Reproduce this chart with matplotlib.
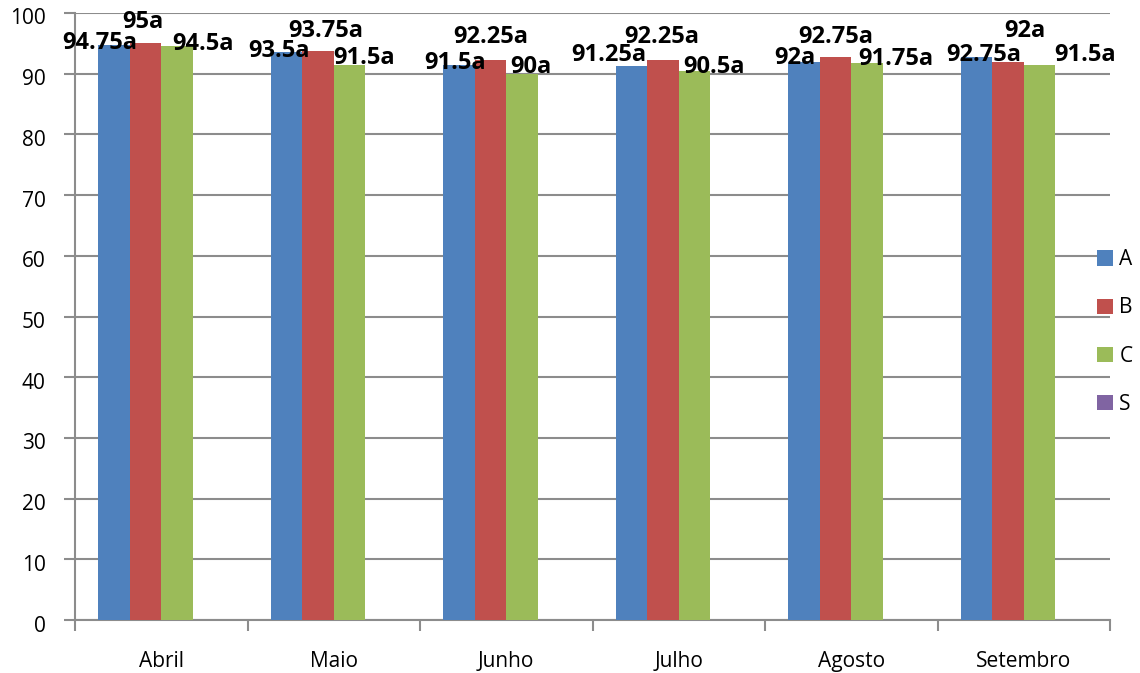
import numpy as np
import matplotlib.pyplot as plt
from matplotlib.patches import Patch
from matplotlib.transforms import ScaledTranslation

plt.rcParams['font.family'] = ['Open Sans', 'DejaVu Sans']

# dados
meses = ['Abril', 'Maio', 'Junho', 'Julho', 'Agosto', 'Setembro']
serie_a = [94.75, 93.5, 91.5, 91.25, 92, 92.75]
serie_b = [95, 93.75, 92.25, 92.25, 92.75, 92]
serie_c = [94.5, 91.5, 90, 90.5, 91.75, 91.5]
serie_s = [0, 0, 0, 0, 0, 0]
nomes = ['A', 'B', 'C', 'S']
cores = ['#4F81BD', '#C0504D', '#9BBB59', '#8064A2']

# deslocamento dos rótulos (pixels) em relação ao topo de cada barra
desl_x = [[-14, -8, -3.5, -23, -9, 7],
          [-3, 8, 0, -1, 0, 17],
          [26, 15, 8.5, 20, 29, 46]]
desl_y = [[2, 1.5, 1.6, 11, 3.6, 2],
          [21, 20, 23, 23, 20, 30.6],
          [2, 6.6, 6.7, 3.7, 4, 9.6]]

fig = plt.figure(figsize=(11.4, 6.73), dpi=100)
ax = fig.add_axes([75 / 1140, 53 / 673, 1035 / 1140, 607 / 673])

x = np.arange(len(meses))
w = 0.1825
series = [serie_a, serie_b, serie_c, serie_s]
for i, (vals, cor) in enumerate(zip(series, cores)):
    pos = x + (i - 1.5) * w
    ax.bar(pos, vals, width=w, color=cor, zorder=3)
    if i < 3:
        for j, v in enumerate(vals):
            ax.annotate('%ga' % v, xy=(pos[j], v),
                        xytext=(desl_x[i][j], desl_y[i][j]),
                        textcoords='offset pixels', ha='center', va='center',
                        fontsize=17, fontweight='bold', zorder=5)

ax.set_xlim(-0.5, len(meses) - 0.5)
ax.set_ylim(0, 100)
ax.set_yticks(np.arange(0, 101, 10))
ax.set_xticks(x)
ax.set_xticklabels(meses)
ax.set_xticks(np.arange(-0.5, len(meses), 1), minor=True)

grid_cor = '#8C8C8C'
ax.yaxis.grid(True, color=grid_cor, linewidth=1.5, zorder=0)
ax.set_axisbelow(True)
for s in ['top', 'right']:
    ax.spines[s].set_visible(False)
for s in ['left', 'bottom']:
    ax.spines[s].set_color(grid_cor)
    ax.spines[s].set_linewidth(1.5)

ax.tick_params(axis='y', length=8, width=1.5, color=grid_cor, pad=13, labelsize=15)
ax.tick_params(axis='x', which='major', length=0, pad=22, labelsize=15)
ax.tick_params(axis='x', which='minor', length=8, width=1.5, color=grid_cor)

# rótulos do eixo y um pouco abaixo das linhas de grade
desloc = ScaledTranslation(0, -0.035, fig.dpi_scale_trans)
for lbl in ax.get_yticklabels():
    lbl.set_transform(lbl.get_transform() + desloc)

handles = [Patch(facecolor=c, label=n) for c, n in zip(cores, nomes)]
fig.legend(handles=handles, loc='center left', bbox_to_anchor=(1087 / 1140, 0.5067),
           frameon=False, fontsize=15, handlelength=0.75, handleheight=0.75,
           handletextpad=0.3, labelspacing=1.3, borderpad=0)

fig.savefig('out.png', dpi=100)
